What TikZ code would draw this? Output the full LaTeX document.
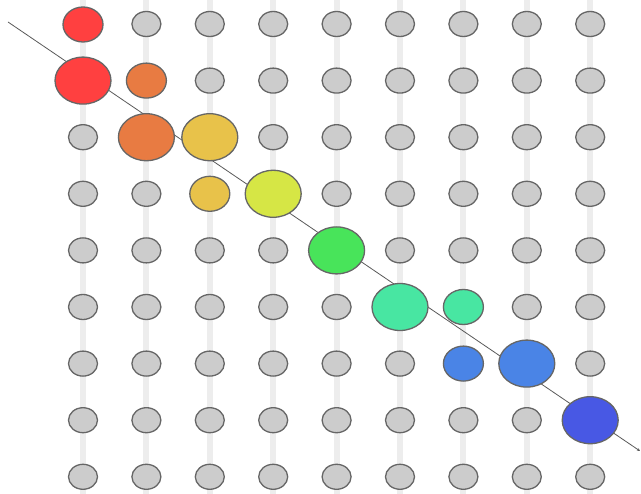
\documentclass[tikz,border=0pt]{standalone}
\usetikzlibrary{shapes.geometric,arrows.meta}
\definecolor{cred}{HTML}{FF4040}
\definecolor{corange}{HTML}{E87B42}
\definecolor{cyellow}{HTML}{E8C24A}
\definecolor{clime}{HTML}{D6E645}
\definecolor{cgreen}{HTML}{48E45A}
\definecolor{cteal}{HTML}{48E6A2}
\definecolor{cblue}{HTML}{4A84E6}
\definecolor{cdblue}{HTML}{4858E4}
\definecolor{cgray}{HTML}{CCCCCC}
\definecolor{cedge}{HTML}{666666}
\definecolor{crail}{HTML}{EDEDED}
\tikzset{
  dot/.style={ellipse, draw=cedge, line width=1.3pt, inner sep=0pt, fill=cgray, minimum width=29pt, minimum height=25pt},
  small/.style={ellipse, draw=cedge, line width=1.3pt, inner sep=0pt, minimum width=40pt, minimum height=35pt},
  big/.style={ellipse, draw=cedge, line width=1.3pt, inner sep=0pt, minimum width=56pt, minimum height=47pt},
  rail/.style={draw=crail, line width=6pt},
  diag/.style={draw=black!65, line width=0.8pt, -{Stealth[length=3pt,width=3pt]}}
}
\begin{document}
\begin{tikzpicture}[x=1pt,y=-1pt]
\useasboundingbox (0,0) rectangle (641,494);
% rails
\foreach \c in {0,...,8} {
  \coordinate (rt\c) at ({83+63.4*\c},0);
  \coordinate (rb\c) at ({83+63.4*\c},494);
  \draw[rail] (rt\c) -- (rb\c);
}
% gray dots
\foreach \c in {0,...,8} {
  \foreach \r in {0,...,8} {
    \node[dot] (g-\c-\r) at ({83+63.4*\c},{24+56.6*\r}) {};
  }
}
% diagonal
\coordinate (ds) at (8,22);
\coordinate (de) at (640,451);
\draw[diag] (ds) -- (de);
% colored
\node[small, fill=cred]    (r1) at (83,24.5) {};
\node[big,   fill=cred]    (r2) at (83,80.6) {};
\node[small, fill=corange] (o1) at (146.4,80.6) {};
\node[big,   fill=corange] (o2) at (146.4,137.2) {};
\node[big,   fill=cyellow] (y1) at (209.8,137.2) {};
\node[small, fill=cyellow] (y2) at (209.8,193.8) {};
\node[big,   fill=clime]   (l1) at (273.2,193.8) {};
\node[big,   fill=cgreen]  (gr) at (336.6,250.4) {};
\node[big,   fill=cteal]   (t1) at (400,307) {};
\node[small, fill=cteal]   (t2) at (463.4,307) {};
\node[small, fill=cblue]   (b1) at (463.4,363.6) {};
\node[big,   fill=cblue]   (b2) at (526.8,363.6) {};
\node[big,   fill=cdblue]  (d1) at (590.2,420.2) {};
\end{tikzpicture}
\end{document}
